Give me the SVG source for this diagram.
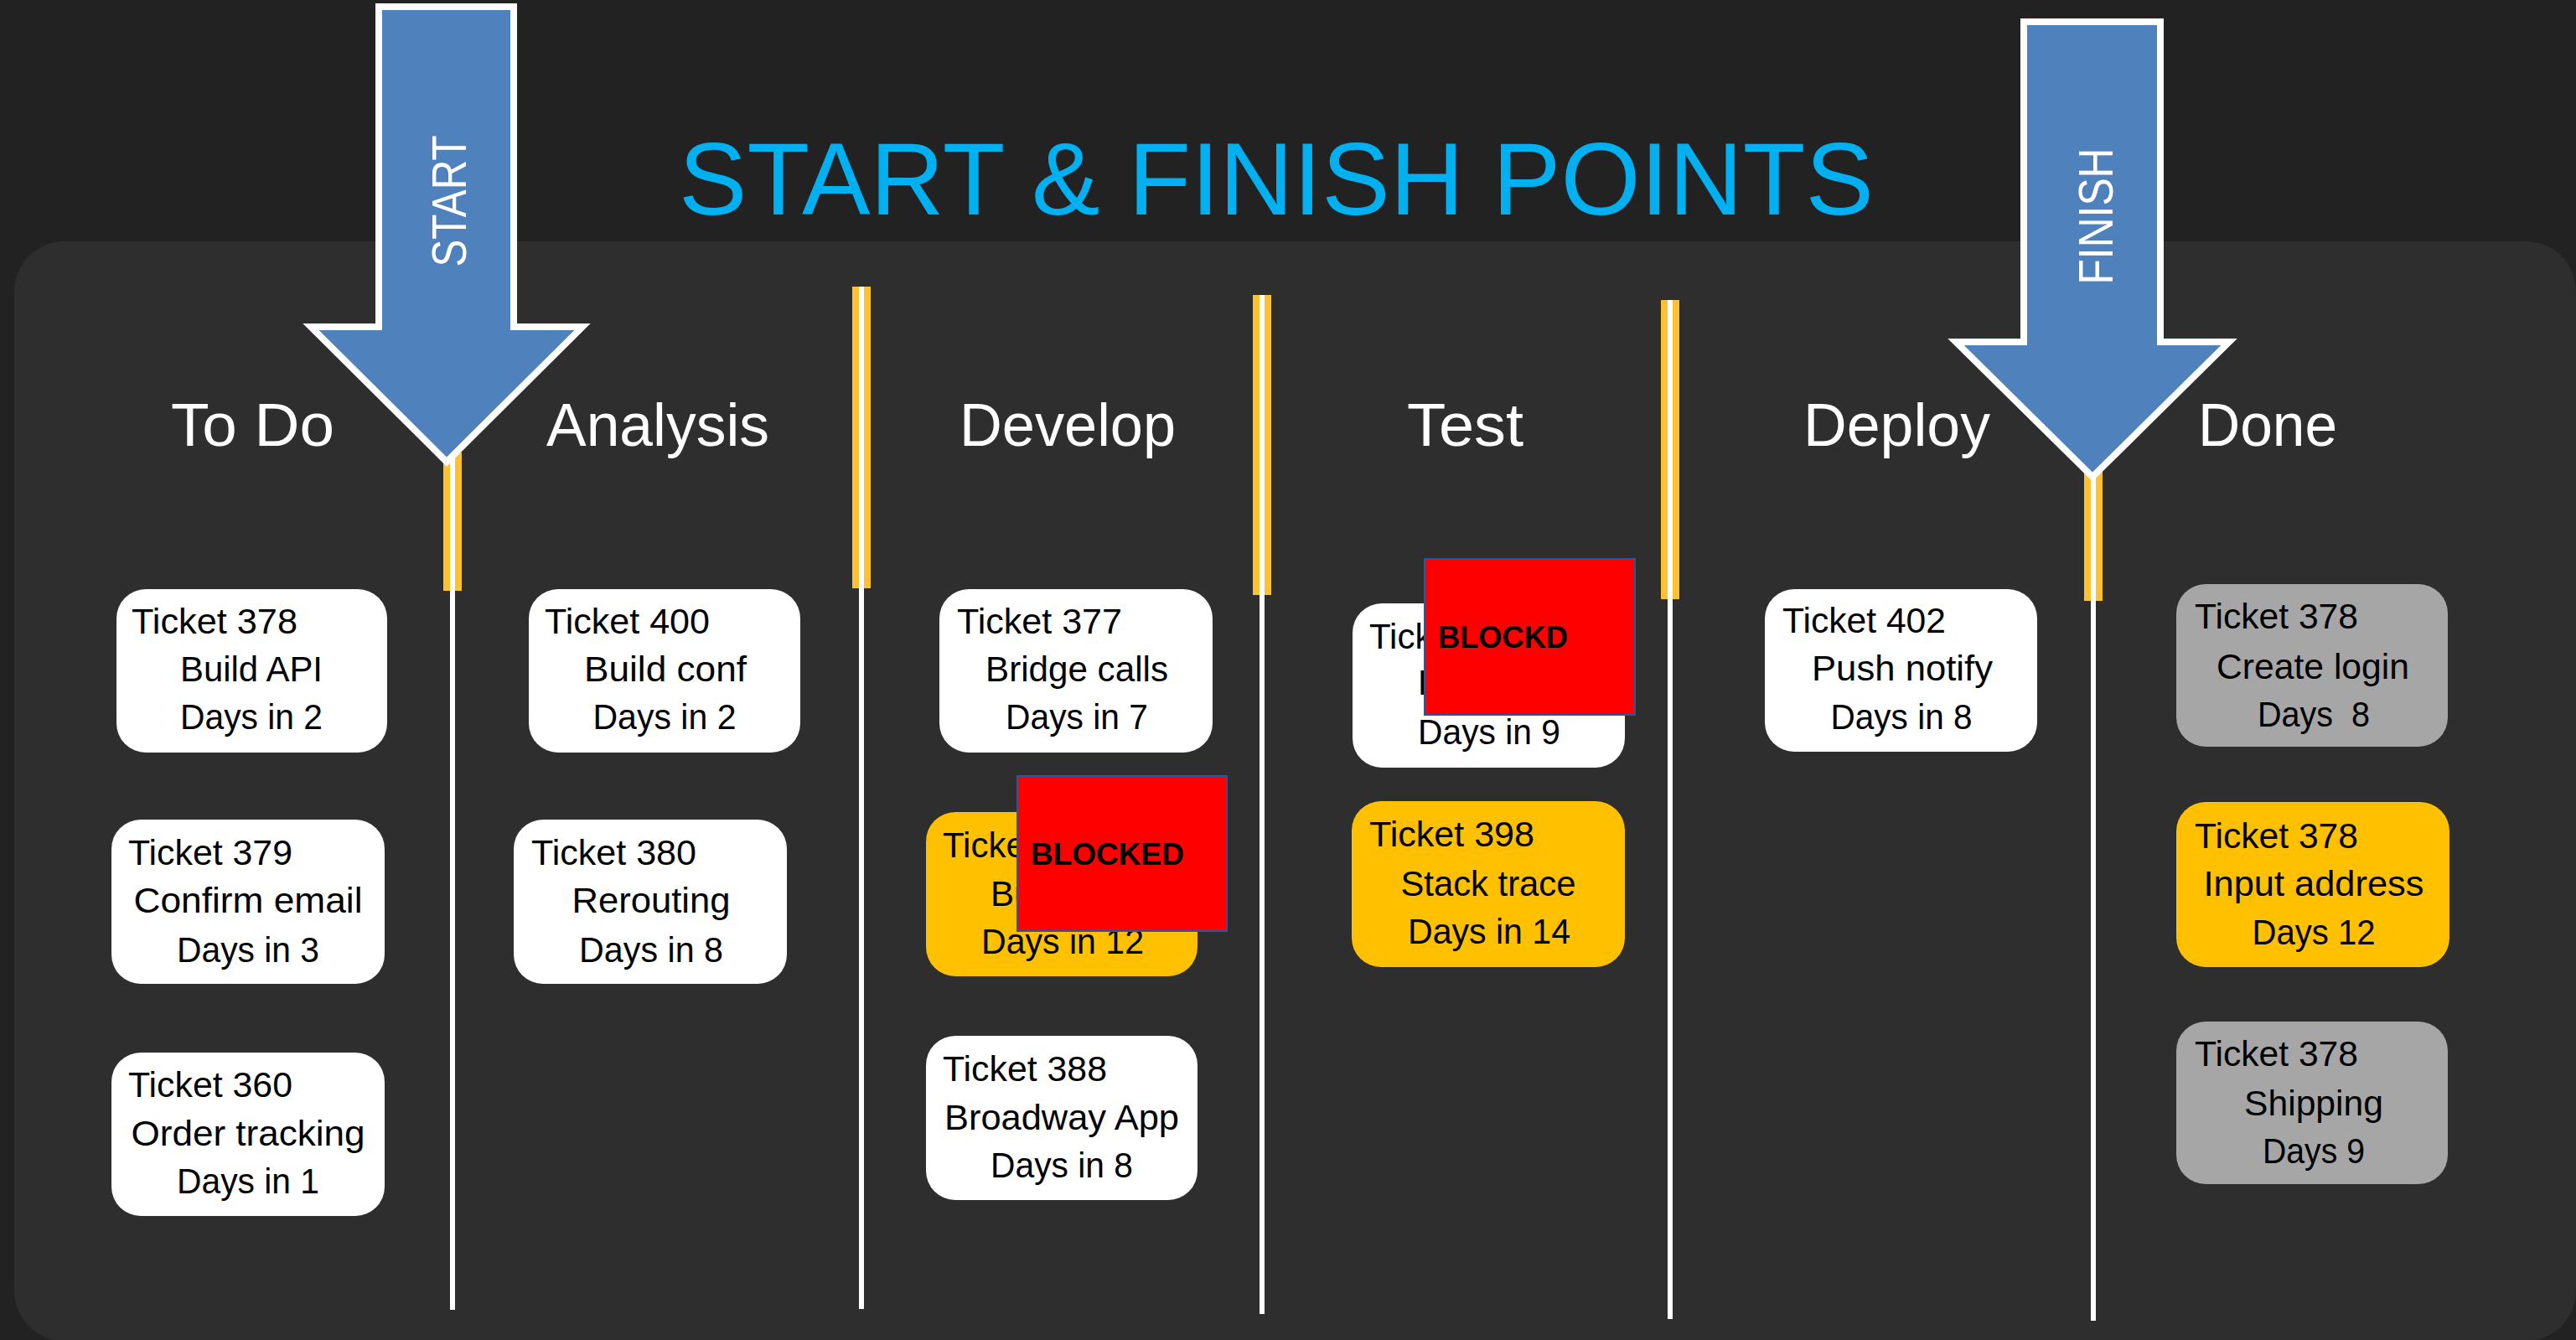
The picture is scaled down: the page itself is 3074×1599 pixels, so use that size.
<svg xmlns="http://www.w3.org/2000/svg" width="3074" height="1599" viewBox="0 0 3074 1599">
<style>
.hdr{font-family:"Liberation Sans",Arial,sans-serif;font-size:72px;fill:#ffffff}
.t{font-family:"Liberation Sans",Arial,sans-serif;font-size:42px;fill:#000000}
.c{text-anchor:middle}
.card{stroke:none}
.white{fill:#ffffff}
.yel{fill:#ffc000}
.gray{fill:#a6a6a6}
.blk{fill:#ff0000;stroke:#2f5597;stroke-width:2}
.blkt{font-family:"Liberation Sans",Arial,sans-serif;font-weight:bold;font-size:37px;fill:#000000}
.ybar{fill:#fdc132}
.wline{fill:#ffffff}
.arrow{fill:#4f81bd;stroke:#ffffff;stroke-width:8;stroke-miterlimit:10}
.atxt{font-family:"Liberation Sans",Arial,sans-serif;font-size:58px;fill:#ffffff;text-anchor:middle}
</style>
<rect x="0" y="0" width="3074" height="1599" fill="#222222"/>
<rect x="17" y="288" width="3057" height="1312" rx="60" ry="60" fill="#2e2e2e"/>
<text id="title" x="810" y="256" font-family="'Liberation Sans',Arial,sans-serif" font-size="123" fill="#00b0f0" textLength="1426" lengthAdjust="spacingAndGlyphs">START &amp; FINISH POINTS</text>

<g id="headers">
<text class="hdr" x="204" y="532" textLength="195" lengthAdjust="spacingAndGlyphs">To Do</text>
<text class="hdr" x="652" y="532" textLength="266" lengthAdjust="spacingAndGlyphs">Analysis</text>
<text class="hdr" x="1145" y="532" textLength="258" lengthAdjust="spacingAndGlyphs">Develop</text>
<text class="hdr" x="1679" y="532" textLength="139" lengthAdjust="spacingAndGlyphs">Test</text>
<text class="hdr" x="2152" y="532" textLength="223" lengthAdjust="spacingAndGlyphs">Deploy</text>
<text class="hdr" x="2623" y="532" textLength="166" lengthAdjust="spacingAndGlyphs">Done</text>
</g>

<g id="connectors">
<g id="divider1"><rect class="ybar" x="529" y="540" width="22" height="165"/><rect class="wline" x="537" y="540" width="6" height="1023"/></g>
<g id="divider2"><rect class="ybar" x="1017" y="342" width="22" height="360"/><rect class="wline" x="1025" y="342" width="6" height="1220"/></g>
<g id="divider3"><rect class="ybar" x="1495" y="352" width="22" height="358"/><rect class="wline" x="1503" y="352" width="6" height="1216"/></g>
<g id="divider4"><rect class="ybar" x="1982" y="358" width="22" height="357"/><rect class="wline" x="1990" y="358" width="6" height="1216"/></g>
<g id="divider5"><rect class="ybar" x="2487" y="560" width="22" height="157"/><rect class="wline" x="2495" y="560" width="6" height="1016"/></g>
</g>

<g id="start-arrow">
<path class="arrow" d="M452,8 H613 V390 H695 L533,551 L371,390 H452 Z"/>
<text class="atxt" transform="translate(556,240) rotate(-90)" textLength="157" lengthAdjust="spacingAndGlyphs">START</text>
</g>
<g id="finish-arrow">
<path class="arrow" d="M2415,26 H2578 V408 H2660 L2497,569 L2334,408 H2415 Z"/>
<text class="atxt" transform="translate(2521,258) rotate(-90)" textLength="163" lengthAdjust="spacingAndGlyphs">FINISH</text>
</g>

<g id="card-t378-build-api">
<rect class="card white" x="139" y="703" width="323" height="195" rx="35"/>
<text class="t" x="157" y="756" textLength="198" lengthAdjust="spacingAndGlyphs">Ticket 378</text>
<text class="t c" x="300" y="813" textLength="170" lengthAdjust="spacingAndGlyphs">Build API</text>
<text class="t c" x="300" y="870" textLength="170" lengthAdjust="spacingAndGlyphs">Days in 2</text>
</g>
<g id="card-t379">
<rect class="card white" x="133" y="978" width="326" height="196" rx="35"/>
<text class="t" x="153" y="1032" textLength="196" lengthAdjust="spacingAndGlyphs">Ticket 379</text>
<text class="t c" x="296" y="1089" textLength="273" lengthAdjust="spacingAndGlyphs">Confirm email</text>
<text class="t c" x="296" y="1148" textLength="170" lengthAdjust="spacingAndGlyphs">Days in 3</text>
</g>
<g id="card-t360">
<rect class="card white" x="133" y="1256" width="326" height="195" rx="35"/>
<text class="t" x="153" y="1309" textLength="196" lengthAdjust="spacingAndGlyphs">Ticket 360</text>
<text class="t c" x="296" y="1367" textLength="279" lengthAdjust="spacingAndGlyphs">Order tracking</text>
<text class="t c" x="296" y="1424" textLength="170" lengthAdjust="spacingAndGlyphs">Days in 1</text>
</g>
<g id="card-t400">
<rect class="card white" x="631" y="703" width="324" height="195" rx="35"/>
<text class="t" x="650" y="756" textLength="197" lengthAdjust="spacingAndGlyphs">Ticket 400</text>
<text class="t c" x="794" y="813" textLength="194" lengthAdjust="spacingAndGlyphs">Build conf</text>
<text class="t c" x="793" y="870" textLength="171" lengthAdjust="spacingAndGlyphs">Days in 2</text>
</g>
<g id="card-t380">
<rect class="card white" x="613" y="978" width="326" height="196" rx="35"/>
<text class="t" x="634" y="1032" textLength="197" lengthAdjust="spacingAndGlyphs">Ticket 380</text>
<text class="t c" x="777" y="1089" textLength="189" lengthAdjust="spacingAndGlyphs">Rerouting</text>
<text class="t c" x="777" y="1148" textLength="172" lengthAdjust="spacingAndGlyphs">Days in 8</text>
</g>
<g id="card-t377">
<rect class="card white" x="1121" y="703" width="326" height="195" rx="35"/>
<text class="t" x="1142" y="756" textLength="197" lengthAdjust="spacingAndGlyphs">Ticket 377</text>
<text class="t c" x="1285" y="813" textLength="218" lengthAdjust="spacingAndGlyphs">Bridge calls</text>
<text class="t c" x="1285" y="870" textLength="170" lengthAdjust="spacingAndGlyphs">Days in 7</text>
</g>
<g id="card-develop-blocked">
<rect class="card yel" x="1105" y="969" width="324" height="196" rx="35"/>
<text class="t" x="1125" y="1023">Ticke</text>
<text class="t" x="1182" y="1081">Bu</text>
<text class="t c" x="1268" y="1138" textLength="194" lengthAdjust="spacingAndGlyphs">Days in 12</text>
<rect class="blk" x="1214" y="926" width="250" height="185"/>
<text class="blkt" x="1230" y="1032" textLength="183" lengthAdjust="spacingAndGlyphs">BLOCKED</text>
</g>
<g id="card-t388">
<rect class="card white" x="1105" y="1236" width="324" height="196" rx="35"/>
<text class="t" x="1125" y="1290" textLength="196" lengthAdjust="spacingAndGlyphs">Ticket 388</text>
<text class="t c" x="1267" y="1348" textLength="280" lengthAdjust="spacingAndGlyphs">Broadway App</text>
<text class="t c" x="1267" y="1405" textLength="170" lengthAdjust="spacingAndGlyphs">Days in 8</text>
</g>
<g id="card-test-blocked">
<rect class="card white" x="1614" y="720" width="325" height="196" rx="35"/>
<text class="t" x="1634" y="774">Tick</text>
<text class="t" x="1692" y="829">E</text>
<text class="t c" x="1777" y="888" textLength="170" lengthAdjust="spacingAndGlyphs">Days in 9</text>
<rect class="blk" x="1700" y="667" width="251" height="186"/>
<text class="blkt" x="1716" y="773" textLength="155" lengthAdjust="spacingAndGlyphs">BLOCKD</text>
</g>
<g id="card-t398">
<rect class="card yel" x="1613" y="956" width="326" height="198" rx="35"/>
<text class="t" x="1634" y="1010" textLength="197" lengthAdjust="spacingAndGlyphs">Ticket 398</text>
<text class="t c" x="1776" y="1069" textLength="209" lengthAdjust="spacingAndGlyphs">Stack trace</text>
<text class="t c" x="1777" y="1126" textLength="194" lengthAdjust="spacingAndGlyphs">Days in 14</text>
</g>
<g id="card-t402">
<rect class="card white" x="2106" y="703" width="325" height="194" rx="35"/>
<text class="t" x="2127" y="755" textLength="195" lengthAdjust="spacingAndGlyphs">Ticket 402</text>
<text class="t c" x="2270" y="812" textLength="216" lengthAdjust="spacingAndGlyphs">Push notify</text>
<text class="t c" x="2269" y="870" textLength="169" lengthAdjust="spacingAndGlyphs">Days in 8</text>
</g>
<g id="card-done-create-login">
<rect class="card gray" x="2597" y="697" width="324" height="194" rx="35"/>
<text class="t" x="2619" y="750" textLength="195" lengthAdjust="spacingAndGlyphs">Ticket 378</text>
<text class="t c" x="2760" y="810" textLength="230" lengthAdjust="spacingAndGlyphs">Create login</text>
<text class="t c" x="2761" y="867" textLength="134" lengthAdjust="spacingAndGlyphs" xml:space="preserve">Days  8</text>
</g>
<g id="card-done-input-address">
<rect class="card yel" x="2597" y="957" width="326" height="197" rx="35"/>
<text class="t" x="2619" y="1012" textLength="195" lengthAdjust="spacingAndGlyphs">Ticket 378</text>
<text class="t c" x="2761" y="1069" textLength="263" lengthAdjust="spacingAndGlyphs">Input address</text>
<text class="t c" x="2761" y="1127" textLength="147" lengthAdjust="spacingAndGlyphs">Days 12</text>
</g>
<g id="card-done-shipping">
<rect class="card gray" x="2597" y="1219" width="324" height="194" rx="35"/>
<text class="t" x="2619" y="1272" textLength="195" lengthAdjust="spacingAndGlyphs">Ticket 378</text>
<text class="t c" x="2761" y="1331" textLength="166" lengthAdjust="spacingAndGlyphs">Shipping</text>
<text class="t c" x="2761" y="1388" textLength="122" lengthAdjust="spacingAndGlyphs">Days 9</text>
</g>
</svg>
